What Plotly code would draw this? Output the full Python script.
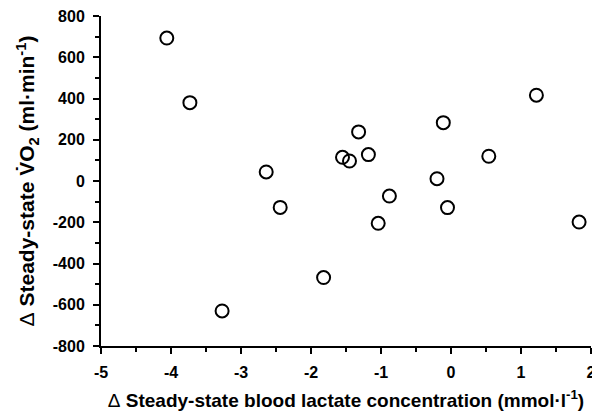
import plotly.graph_objects as go

lactate = [-4.06, -3.73, -2.64, -1.55, -1.45, -1.32, -1.18, -0.88, -0.20, -0.11,
           0.54, 1.22, -2.44, -3.27, -1.82, -1.04, -0.05, 1.83]
vo2 = [693, 380, 44, 115, 97, 238, 128, -73, 11, 283,
       120, 416, -128, -630, -468, -205, -129, -199]

x_ticks = [-5, -4, -3, -2, -1, 0, 1, 2]
y_ticks = [-800, -600, -400, -200, 0, 200, 400, 600, 800]

FAM = "Liberation Sans, Arial, sans-serif"
font = dict(family=FAM, color="black", size=16, weight="bold")

fig = go.Figure(go.Scatter(
    x=lactate, y=vo2, mode="markers",
    marker=dict(symbol="circle-open", size=13, color="black", line=dict(width=2, color="black")),
    cliponaxis=False,
))

axis_common = dict(
    showline=True, linecolor="black", linewidth=2, showgrid=False, zeroline=False,
    ticks="outside", ticklen=6, tickwidth=2, tickcolor="black",
    tickfont=font, automargin=False, ticklabeloverflow="allow",
)

DELTA = "<span style='font-weight:normal'>\u0394</span> "

fig.update_xaxes(
    range=[-5, 2], tickvals=x_ticks, ticktext=[str(v) for v in x_ticks],
    minor=dict(ticks="outside", ticklen=4, tickwidth=1.5, tickcolor="black", dtick=0.5, tick0=0),
    title=dict(text=DELTA + "Steady-state blood lactate concentration (mmol\u00b7l<sup>-1</sup>)",
               font=dict(family=FAM, size=19, color="black", weight="bold"), standoff=13),
    ticklabelstandoff=5,
    **axis_common,
)
fig.update_yaxes(
    range=[-800, 800], tickvals=y_ticks, ticktext=[str(v) for v in y_ticks],
    minor=dict(ticks="outside", ticklen=4, tickwidth=1.5, tickcolor="black", dtick=100, tick0=0),
    title=dict(text=DELTA + "Steady-state V\u0307O<sub>2</sub> (ml\u00b7min<sup>-1</sup>)",
               font=dict(family=FAM, size=21, color="black", weight="bold"), standoff=12),
    ticklabelstandoff=5,
    **axis_common,
)

# the page body adds an 8px offset, so the figure is 8px smaller than the window
fig.update_layout(
    width=592, height=406,
    margin=dict(l=93, r=9, t=8, b=68),
    plot_bgcolor="white", paper_bgcolor="white",
    showlegend=False,
)

fig.write_html("out.html")
